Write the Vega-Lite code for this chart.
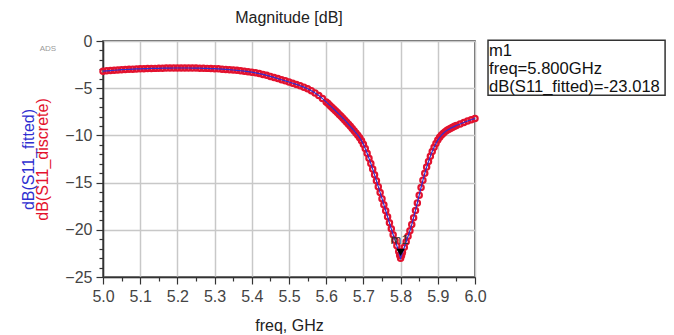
{
  "$schema": "https://vega.github.io/schema/vega-lite/v6.json",
  "autosize": {"type": "none"},
  "padding": {"left": 103, "top": 41, "right": 199, "bottom": 58},
  "width": 372,
  "height": 236,
  "background": "white",
  "config": {
    "font": "Liberation Sans",
    "view": {"stroke": "#333333", "strokeWidth": 1.5},
    "axis": {
      "domainColor": "#333333", "domainWidth": 1.5,
      "tickColor": "#333333", "tickWidth": 1.2,
      "gridColor": "#c8c8c8", "gridWidth": 1.5,
      "labelColor": "#444444", "labelFontSize": 16, "labelFont": "Liberation Sans",
      "titleFont": "Liberation Sans", "titleFontWeight": "normal", "titleFontSize": 16
    }
  },
  "title": {"text": "Magnitude [dB]", "fontSize": 16, "fontWeight": "normal", "color": "#222222", "offset": 7, "font": "Liberation Sans"},
  "data": {"values": [
    {"f":5.00,"db":-3.20},{"f":5.01,"db":-3.16},{"f":5.02,"db":-3.13},{"f":5.03,"db":-3.10},{"f":5.04,"db":-3.07},
    {"f":5.05,"db":-3.04},{"f":5.06,"db":-3.02},{"f":5.07,"db":-3.00},{"f":5.08,"db":-2.98},{"f":5.09,"db":-2.96},
    {"f":5.10,"db":-2.95},{"f":5.11,"db":-2.93},{"f":5.12,"db":-2.92},{"f":5.13,"db":-2.91},{"f":5.14,"db":-2.90},
    {"f":5.15,"db":-2.89},{"f":5.16,"db":-2.88},{"f":5.17,"db":-2.87},{"f":5.18,"db":-2.87},{"f":5.19,"db":-2.86},
    {"f":5.20,"db":-2.86},{"f":5.21,"db":-2.86},{"f":5.22,"db":-2.86},{"f":5.23,"db":-2.86},{"f":5.24,"db":-2.87},
    {"f":5.25,"db":-2.87},{"f":5.26,"db":-2.88},{"f":5.27,"db":-2.89},{"f":5.28,"db":-2.90},{"f":5.29,"db":-2.92},
    {"f":5.30,"db":-2.93},{"f":5.31,"db":-2.95},{"f":5.32,"db":-2.98},{"f":5.33,"db":-3.01},{"f":5.34,"db":-3.04},
    {"f":5.35,"db":-3.07},{"f":5.36,"db":-3.11},{"f":5.37,"db":-3.15},{"f":5.38,"db":-3.20},{"f":5.39,"db":-3.25},
    {"f":5.40,"db":-3.30},{"f":5.41,"db":-3.37},{"f":5.42,"db":-3.45},{"f":5.43,"db":-3.54},{"f":5.44,"db":-3.64},
    {"f":5.45,"db":-3.75},{"f":5.46,"db":-3.86},{"f":5.47,"db":-3.98},{"f":5.48,"db":-4.10},{"f":5.49,"db":-4.22},
    {"f":5.50,"db":-4.34},{"f":5.51,"db":-4.47},{"f":5.52,"db":-4.60},{"f":5.53,"db":-4.74},{"f":5.54,"db":-4.89},
    {"f":5.55,"db":-5.05},{"f":5.56,"db":-5.26},{"f":5.57,"db":-5.50},{"f":5.58,"db":-5.77},{"f":5.59,"db":-6.10},
    {"f":5.60,"db":-6.45},{"f":5.605,"db":-6.63},{"f":5.61,"db":-6.82},{"f":5.615,"db":-7.01},{"f":5.62,"db":-7.20},
    {"f":5.625,"db":-7.39},{"f":5.63,"db":-7.58},{"f":5.635,"db":-7.78},{"f":5.64,"db":-7.98},{"f":5.645,"db":-8.18},
    {"f":5.65,"db":-8.39},{"f":5.655,"db":-8.60},{"f":5.66,"db":-8.82},{"f":5.665,"db":-9.04},{"f":5.67,"db":-9.27},
    {"f":5.675,"db":-9.50},{"f":5.68,"db":-9.74},{"f":5.685,"db":-9.98},{"f":5.69,"db":-10.24},{"f":5.695,"db":-10.56},
    {"f":5.70,"db":-10.95},{"f":5.705,"db":-11.40},{"f":5.71,"db":-11.90},{"f":5.715,"db":-12.43},{"f":5.72,"db":-12.98},
    {"f":5.725,"db":-13.57},{"f":5.73,"db":-14.18},{"f":5.735,"db":-14.80},{"f":5.74,"db":-15.43},{"f":5.745,"db":-16.06},
    {"f":5.75,"db":-16.70},{"f":5.755,"db":-17.34},{"f":5.76,"db":-17.98},{"f":5.765,"db":-18.62},{"f":5.77,"db":-19.26},
    {"f":5.775,"db":-19.90},{"f":5.78,"db":-20.52},{"f":5.785,"db":-21.12},{"f":5.79,"db":-21.70},{"f":5.795,"db":-22.30},
    {"f":5.7975,"db":-22.70},{"f":5.80,"db":-23.02},{"f":5.8025,"db":-22.72},{"f":5.805,"db":-22.40},{"f":5.81,"db":-21.85},
    {"f":5.815,"db":-21.27},{"f":5.82,"db":-20.68},{"f":5.825,"db":-20.10},{"f":5.83,"db":-19.45},{"f":5.835,"db":-18.72},
    {"f":5.84,"db":-17.95},{"f":5.845,"db":-17.15},{"f":5.85,"db":-16.33},{"f":5.855,"db":-15.52},{"f":5.86,"db":-14.74},
    {"f":5.865,"db":-14.02},{"f":5.87,"db":-13.36},{"f":5.875,"db":-12.76},{"f":5.88,"db":-12.21},{"f":5.885,"db":-11.71},
    {"f":5.89,"db":-11.26},{"f":5.895,"db":-10.86},{"f":5.90,"db":-10.50},{"f":5.905,"db":-10.20},{"f":5.91,"db":-9.97},
    {"f":5.915,"db":-9.77},{"f":5.92,"db":-9.60},{"f":5.925,"db":-9.46},{"f":5.93,"db":-9.34},{"f":5.935,"db":-9.23},
    {"f":5.94,"db":-9.13},{"f":5.945,"db":-9.04},{"f":5.95,"db":-8.95},{"f":5.96,"db":-8.79},{"f":5.97,"db":-8.63},
    {"f":5.98,"db":-8.48},{"f":5.99,"db":-8.34},{"f":6.00,"db":-8.20}
  ]},
  "resolve": {"axis": {"x": "independent", "y": "independent"}},
  "layer": [
    {
      "mark": {"type": "point", "shape": "circle", "filled": false, "color": "#e3122e", "size": 28, "strokeWidth": 2.2, "opacity": 1},
      "encoding": {
        "x": {"field": "f", "type": "quantitative", "scale": {"domain": [5, 6], "nice": false, "zero": false},
          "axis": {
            "orient": "bottom", "title": "freq, GHz", "titleColor": "#222222", "titlePadding": 13,
            "values": [5,5.1,5.2,5.3,5.4,5.5,5.6,5.7,5.8,5.9,6],
            "format": ".1f", "tickSize": 7, "grid": true,
            "labelPadding": 4, "labelFlush": false, "labelOverlap": false
          }},
        "y": {"field": "db", "type": "quantitative", "scale": {"domain": [-25, 0], "nice": false, "zero": false},
          "axis": {
            "orient": "left", "title": "dB(S11_discrete)", "titleColor": "#e3122e", "titlePadding": 14,
            "values": [0,-5,-10,-15,-20,-25], "format": "d", "tickSize": 7, "grid": true,
            "labelPadding": 4, "labelOverlap": false, "labelFlush": false, "minExtent": 0
          }}
      }
    },
    {
      "mark": {"type": "line", "color": "#2f2fd0", "strokeWidth": 1.2},
      "encoding": {
        "x": {"field": "f", "type": "quantitative",
          "axis": {"orient": "bottom", "title": null, "labels": false, "domain": false, "grid": false, "tickSize": 4,
            "values": [5.05,5.15,5.25,5.35,5.45,5.55,5.65,5.75,5.85,5.95]}},
        "y": {"field": "db", "type": "quantitative",
          "axis": {"orient": "left", "title": "dB(S11_fitted)", "titleColor": "#2f2fd0", "labels": false, "domain": false, "grid": false, "tickSize": 4,
            "values": [-1,-2,-3,-4,-6,-7,-8,-9,-11,-12,-13,-14,-16,-17,-18,-19,-21,-22,-23,-24],
            "titlePadding": 62, "minExtent": 0}}
      }
    },
    {
      "data": {"values": [{"marker": "m1", "f": 5.8, "db": -23.018}]},
      "mark": {"type": "point", "shape": "triangle-down", "filled": true, "color": "#000000", "size": 70, "yOffset": -6, "opacity": 1},
      "encoding": {
        "x": {"field": "f", "type": "quantitative", "axis": null},
        "y": {"field": "db", "type": "quantitative", "axis": null}
      }
    },
    {
      "data": {"values": [{"marker": "m1", "f": 5.8, "db": -23.018}]},
      "mark": {"type": "text", "fontSize": 13, "color": "#333333", "dy": -18, "dx": -1},
      "encoding": {
        "x": {"field": "f", "type": "quantitative", "axis": null},
        "y": {"field": "db", "type": "quantitative", "axis": null},
        "text": {"field": "marker"}
      }
    },
    {
      "data": {"values": [{"marker": "m1"}]},
      "mark": {"type": "rect", "fill": "white", "stroke": "#333333", "strokeWidth": 1.5},
      "encoding": {
        "x": {"datum": 6.035, "type": "quantitative", "axis": null},
        "x2": {"datum": 6.511},
        "y": {"datum": 0.07, "type": "quantitative", "axis": null},
        "y2": {"datum": -5.75}
      }
    },
    {
      "data": {"values": [{"marker": "m1"}]},
      "mark": {"type": "text", "align": "left", "baseline": "top", "fontSize": 16.6, "lineHeight": 18, "color": "#111111", "lineBreak": "\n", "dx": 1, "dy": 3,
        "text": "m1\nfreq=5.800GHz\ndB(S11_fitted)=-23.018"},
      "encoding": {
        "x": {"datum": 6.035, "type": "quantitative", "axis": null},
        "y": {"datum": 0.07, "type": "quantitative", "axis": null}
      }
    },
    {
      "data": {"values": [{"marker": "ADS"}]},
      "mark": {"type": "text", "text": "ADS", "fontSize": 8, "color": "#9a9a9a", "align": "center", "baseline": "middle"},
      "encoding": {
        "x": {"datum": 4.852, "type": "quantitative", "axis": null},
        "y": {"datum": -0.9, "type": "quantitative", "axis": null}
      }
    }
  ]
}
